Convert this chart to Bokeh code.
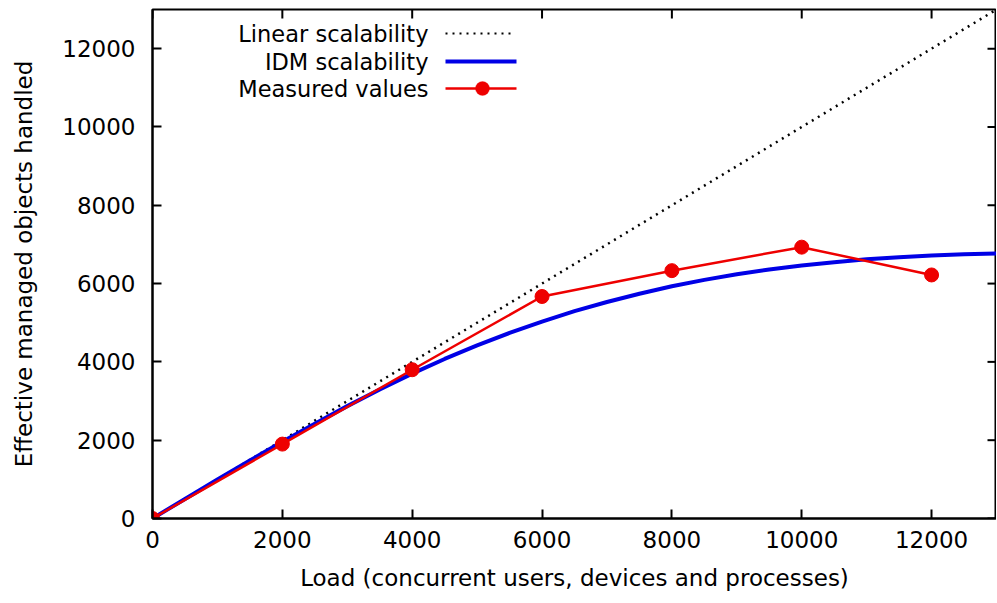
from bokeh.plotting import figure
from bokeh.models import (Range1d, FixedTicker, Label, Arrow, BoxAnnotation)
from bokeh.embed import file_html
from bokeh.resources import INLINE

# ---- data ----
linear_x = [0, 13000]
linear_y = [0, 13000]

idm_x = [0, 500, 1000, 1500, 2000, 2500, 3000, 3500, 4000, 4500, 5000, 5500, 6000,
         6500, 7000, 7500, 8000, 8500, 9000, 9500, 10000, 10500, 11000, 11500,
         12000, 12500, 13000]
idm_y = [0, 500, 995, 1480, 1960, 2420, 2870, 3295, 3700, 4075, 4420, 4740, 5030,
         5295, 5530, 5740, 5930, 6095, 6240, 6360, 6460, 6545, 6620, 6675,
         6720, 6750, 6770]

meas_x = [0, 2000, 4000, 6000, 8000, 10000, 12000]
meas_y = [0, 1900, 3800, 5670, 6330, 6930, 6220]

x_ticks = [0, 2000, 4000, 6000, 8000, 10000, 12000]
y_ticks = [0, 2000, 4000, 6000, 8000, 10000, 12000]

legend_labels = ["Linear scalability", "IDM scalability", "Measured values"]
x_title = "Load (concurrent users, devices and processes)"
y_title = "Effective managed objects handled"

FONT = "DejaVu Sans"
FS = "23px"
LFS = "22.5px"
RED = "#ee0000"
BLUE = "#0000e6"

X_MAX, Y_MAX = 13000, 13000
FW, FH = 844, 509
TICK = 9

p = figure(frame_width=FW, frame_height=FH, output_backend="svg", toolbar_location=None,
           x_range=Range1d(0, X_MAX), y_range=Range1d(0, Y_MAX),
           min_border_left=152, min_border_right=0, min_border_top=9,
           min_border_bottom=60)
p.xgrid.visible = False
p.ygrid.visible = False
p.outline_line_color = "black"
p.outline_line_width = 2
p.background_fill_color = "white"
p.border_fill_color = "white"

for ax, title, ticks in ((p.xaxis[0], x_title, x_ticks), (p.yaxis[0], y_title, y_ticks)):
    ax.ticker = FixedTicker(ticks=ticks)
    ax.minor_tick_line_color = None
    ax.major_tick_in = TICK
    ax.major_tick_out = 0
    ax.major_tick_line_width = 2
    ax.axis_line_width = 2
    ax.axis_line_color = "black"
    ax.major_label_text_font = FONT
    ax.major_label_text_font_size = FS
    ax.major_label_text_color = "black"
    ax.axis_label = title
    ax.axis_label_text_font = FONT
    ax.axis_label_text_font_size = FS
    ax.axis_label_text_font_style = "normal"
    ax.axis_label_text_color = "black"
p.xaxis[0].major_label_standoff = 12
p.xaxis[0].axis_label_standoff = 14
p.yaxis[0].major_label_standoff = 17
p.yaxis[0].axis_label_standoff = 22

# mirrored ticks on the top and right borders
top_len = TICK * Y_MAX / FH
right_len = TICK * X_MAX / FW
p.segment(x0=x_ticks, y0=[Y_MAX] * len(x_ticks), x1=x_ticks,
          y1=[Y_MAX - top_len] * len(x_ticks), line_color="black", line_width=2)
p.segment(x0=[X_MAX] * len(y_ticks), y0=y_ticks, x1=[X_MAX - right_len] * len(y_ticks),
          y1=y_ticks, line_color="black", line_width=2)

# series
p.line(linear_x, linear_y, line_color="black", line_width=2.5, line_dash="2 5")
p.line(idm_x, idm_y, line_color=BLUE, line_width=4)
p.line(meas_x, meas_y, line_color=RED, line_width=2.5)
p.scatter(meas_x, meas_y, size=14, fill_color=RED, line_color=RED)

# legend (text right-aligned, sample on the right)
rows_y = [485, 457, 430]
for lab, yy in zip(legend_labels, rows_y):
    p.add_layout(Label(x=276, y=yy, x_units="screen", y_units="screen", text=lab,
                       text_align="right", text_baseline="middle",
                       text_font=FONT, text_font_size=LFS, text_color="black"))
p.add_layout(Arrow(x_start=293, x_end=362, y_start=rows_y[0], y_end=rows_y[0],
                   start_units="screen", end_units="screen", end=None,
                   line_color="black", line_width=2, line_dash="2 5"))
p.add_layout(Arrow(x_start=293, x_end=364, y_start=rows_y[1], y_end=rows_y[1],
                   start_units="screen", end_units="screen", end=None,
                   line_color=BLUE, line_width=4))
p.add_layout(Arrow(x_start=293, x_end=364, y_start=rows_y[2], y_end=rows_y[2],
                   start_units="screen", end_units="screen", end=None,
                   line_color=RED, line_width=2.5))
p.add_layout(BoxAnnotation(left=323, right=337, bottom=rows_y[2] - 7, top=rows_y[2] + 7,
                           left_units="screen", right_units="screen",
                           bottom_units="screen", top_units="screen",
                           fill_color=RED, fill_alpha=1, line_color=RED,
                           border_radius=7))

open("out.html", "w").write(file_html(p, INLINE))
